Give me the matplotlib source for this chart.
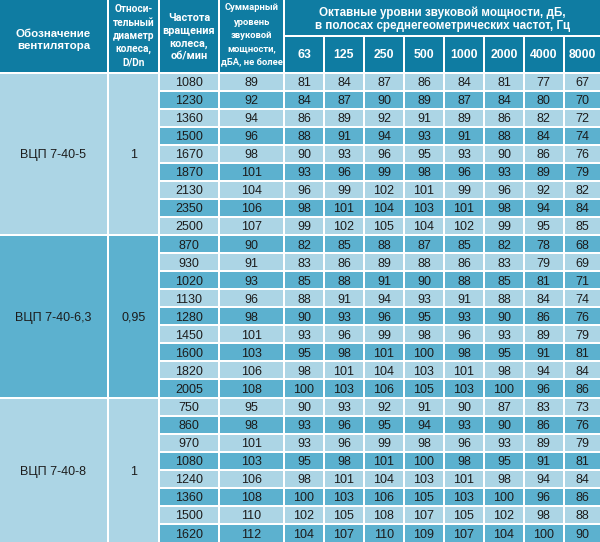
import matplotlib
matplotlib.use("Agg")
import matplotlib.pyplot as plt
from matplotlib.patches import Rectangle
from matplotlib.font_manager import FontProperties

# ---------------- data ----------------
designations = ["ВЦП 7-40-5", "ВЦП 7-40-6,3", "ВЦП 7-40-8"]
diameters = ["1", "0,95", "1"]
speeds = [
    [1080, 1230, 1360, 1500, 1670, 1870, 2130, 2350, 2500],
    [870, 930, 1020, 1130, 1280, 1450, 1600, 1820, 2005],
    [750, 860, 970, 1080, 1240, 1360, 1500, 1620],
]
total_level = [
    [89, 92, 94, 96, 98, 101, 104, 106, 107],
    [90, 91, 93, 96, 98, 101, 103, 106, 108],
    [95, 98, 101, 103, 106, 108, 110, 112],
]
freq_labels = ["63", "125", "250", "500", "1000", "2000", "4000", "8000"]
octave_levels = [
    [81, 84, 87, 86, 84, 81, 77, 67],
    [84, 87, 90, 89, 87, 84, 80, 70],
    [86, 89, 92, 91, 89, 86, 82, 72],
    [88, 91, 94, 93, 91, 88, 84, 74],
    [90, 93, 96, 95, 93, 90, 86, 76],
    [93, 96, 99, 98, 96, 93, 89, 79],
    [96, 99, 102, 101, 99, 96, 92, 82],
    [98, 101, 104, 103, 101, 98, 94, 84],
    [99, 102, 105, 104, 102, 99, 95, 85],
    [82, 85, 88, 87, 85, 82, 78, 68],
    [83, 86, 89, 88, 86, 83, 79, 69],
    [85, 88, 91, 90, 88, 85, 81, 71],
    [88, 91, 94, 93, 91, 88, 84, 74],
    [90, 93, 96, 95, 93, 90, 86, 76],
    [93, 96, 99, 98, 96, 93, 89, 79],
    [95, 98, 101, 100, 98, 95, 91, 81],
    [98, 101, 104, 103, 101, 98, 94, 84],
    [100, 103, 106, 105, 103, 100, 96, 86],
    [90, 93, 92, 91, 90, 87, 83, 73],
    [93, 96, 95, 94, 93, 90, 86, 76],
    [93, 96, 99, 98, 96, 93, 89, 79],
    [95, 98, 101, 100, 98, 95, 91, 81],
    [98, 101, 104, 103, 101, 98, 94, 84],
    [100, 103, 106, 105, 103, 100, 96, 86],
    [102, 105, 108, 107, 105, 102, 98, 88],
    [104, 107, 110, 109, 107, 104, 100, 90],
]
header_lines = [
    ["Обозначение", "вентилятора"],
    ["Относи-", "тельный", "диаметр", "колеса,", "D/Dn"],
    ["Частота", "вращения", "колеса,", "об/мин"],
    ["Суммарный", "уровень", "звуковой", "мощности,", "дБА, не более"],
]
span_lines = ["Октавные уровни звуковой мощности, дБ,",
              "в полосах среднегеометрических частот, Гц"]

# ---------------- style ----------------
HEAD = "#0f7ca2"
LIGHT = "#acd5e5"
DARK = "#5cb1cf"
TXT = "#1c1c1c"

narrow_bold = FontProperties(family=["Roboto", "Liberation Sans", "DejaVu Sans"], weight="bold")
reg_bold = FontProperties(family=["Liberation Sans", "DejaVu Sans"], weight="bold")
base = ["Liberation Sans", "DejaVu Sans"]

W, H = 600, 542
fig = plt.figure(figsize=(W / 100, H / 100), dpi=100)
ax = fig.add_axes([0, 0, 1, 1])
ax.set_xlim(0, W)
ax.set_ylim(H, 0)
ax.axis("off")
fig.patch.set_facecolor("white")
renderer = fig.canvas.get_renderer()

xb = [0, 108, 159, 219, 284, 324, 364, 404, 444, 484, 524, 563.5, 600]
head_top, head_mid, head_bot = 0, 36, 72.5
nrows = sum(len(s) for s in speeds)
rh = (H - head_bot) / nrows
g = 1.0


def cell(x0, x1, y0, y1, color):
    l = x0 + (g if x0 > 0 else 0)
    r = x1 - (g if x1 < W else 0)
    t = y0 + (g if y0 > 0 else 0)
    b = y1 - (g if y1 < H - 0.5 else 0)
    ax.add_patch(Rectangle((l, t), r - l, b - t, facecolor=color, edgecolor="none"))
    return (l + r) / 2, (t + b) / 2


def fitted_lines(cx, ys, lines, props, ref_idx, ref_px, max_px, max_size=10.0):
    """Header lines in white; line ref_idx is sized to ref_px wide,
    any line wider than max_px is shrunk on its own."""
    texts = []
    for y, s in zip(ys, lines):
        p = props.copy()
        p.set_size(10)
        texts.append(ax.text(cx, y, s, ha="center", va="center_baseline",
                             color="white", fontproperties=p))
    widths = [t.get_window_extent(renderer).width for t in texts]
    size = min(max_size, 10 * ref_px / widths[ref_idx])
    for t, w in zip(texts, widths):
        t.set_fontsize(min(size, 10 * max_px / w))


# header cells
ys_list = [[33, 45], [8, 22, 35, 48, 61], [17, 30, 43, 55.5], [7, 21.5, 35, 48, 61]]
fit_specs = [(0, 75, 100), (2, 42, 46), (1, 52, 56), (0, 54, 62)]
props_list = [reg_bold, narrow_bold, narrow_bold, narrow_bold]
for i, lines in enumerate(header_lines):
    cx, cy = cell(xb[i], xb[i + 1], head_top, head_bot, HEAD)
    ri, rp, mp = fit_specs[i]
    fitted_lines(cx, ys_list[i], lines, props_list[i], ri, rp, mp, max_size=9)

cx, cy = cell(xb[4], xb[12], head_top, head_mid, HEAD)
fitted_lines(cx, [11.5, 25], span_lines, reg_bold, 1, 253, 300)
for j, lab in enumerate(freq_labels):
    cx, cy = cell(xb[4 + j], xb[5 + j], head_mid, head_bot, HEAD)
    p = reg_bold.copy()
    p.set_size(8.8)
    ax.text(cx, 54, lab, ha="center", va="center_baseline", color="white", fontproperties=p)

# body
r = 0
for gi, (des, dia, sp, tl) in enumerate(zip(designations, diameters, speeds, total_level)):
    y0 = head_bot + r * rh
    y1 = head_bot + (r + len(sp)) * rh
    gcol = DARK if gi % 2 == 1 else LIGHT
    cx, cy = cell(xb[0], xb[1], y0, y1, gcol)
    ax.text(cx, cy, des, ha="center", va="center_baseline", color=TXT, fontsize=9, family=base)
    cx, cy = cell(xb[1], xb[2], y0, y1, gcol)
    ax.text(cx, cy, dia, ha="center", va="center_baseline", color=TXT, fontsize=9, family=base)
    for k in range(len(sp)):
        ya = head_bot + r * rh
        yb = ya + rh
        col = LIGHT if r % 2 == 0 else DARK
        vals = [sp[k], tl[k]] + octave_levels[r]
        for c, v in enumerate(vals):
            cx, cy = cell(xb[2 + c], xb[3 + c], ya, yb, col)
            ax.text(cx, cy, str(v), ha="center", va="center_baseline", color=TXT,
                    fontsize=9, family=base)
        r += 1

fig.savefig("out.png", dpi=100, facecolor="white")
